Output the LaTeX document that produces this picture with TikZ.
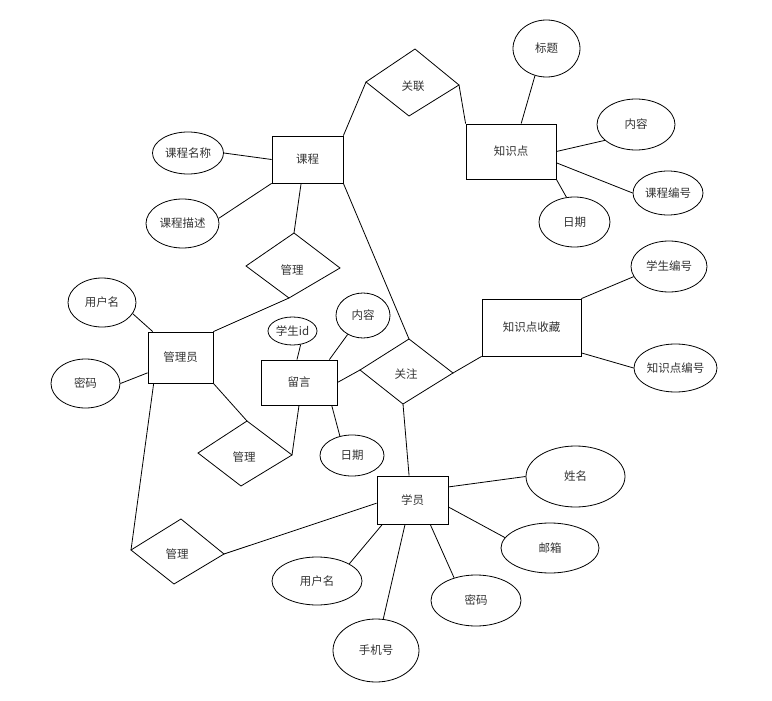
\documentclass[tikz,border=0pt]{standalone}
\usepackage{fontspec}
\newfontfamily\cjk{Noto Sans CJK SC}
\usepackage{tikz}
\usetikzlibrary{shapes.geometric}

\tikzset{
  erfont/.style={font=\cjk\fontsize{11.5}{13}\selectfont, text=black!80},
  entity/.style={erfont, draw, rectangle, inner sep=0pt},
  attr/.style={erfont, draw, ellipse, inner sep=0pt},
  rel/.style={erfont},
}

\begin{document}
\begin{tikzpicture}[x=1pt, y=-1pt, line width=0.8pt]
        \useasboundingbox (0,0) rectangle (772,701);

        % Entities
        \node[entity, minimum width=71pt, minimum height=47pt] (kc) at (307.5,159.5) {课程};
        \node[entity, minimum width=90pt, minimum height=55pt] (zsd) at (511,151.5) {知识点};
        \node[entity, minimum width=99pt, minimum height=57pt] (scsc) at (531.5,327.5) {知识点收藏};
        \node[entity, minimum width=65pt, minimum height=51pt] (gly) at (180.5,357.5) {管理员};
        \node[entity, minimum width=76pt, minimum height=45pt] (ly) at (299,382.5) {留言};
        \node[entity, minimum width=71pt, minimum height=48pt] (xy) at (412.5,500) {学员};

        % Attributes
        \node[attr, minimum width=67pt, minimum height=57pt] (bt) at (546.5,48.5) {标题};
        \node[attr, minimum width=78pt, minimum height=51pt] (nr1) at (636,124.5) {内容};
        \node[attr, minimum width=70pt, minimum height=44pt] (kcbh) at (668,193) {课程编号};
        \node[attr, minimum width=71pt, minimum height=50pt] (rq1) at (574.5,222) {日期};
        \node[attr, minimum width=76pt, minimum height=51pt] (xsbh) at (669,266.5) {学生编号};
        \node[attr, minimum width=83pt, minimum height=48pt] (zsdbh) at (675.5,368) {知识点编号};
        \node[attr, minimum width=71pt, minimum height=42pt] (kcmc) at (188,153) {课程名称};
        \node[attr, minimum width=73pt, minimum height=49pt] (kcms) at (182.5,223.5) {课程描述};
        \node[attr, minimum width=68pt, minimum height=49pt] (yhm1) at (102,302.5) {用户名};
        \node[attr, minimum width=69pt, minimum height=49pt] (mm1) at (85.5,383.5) {密码};
        \node[attr, minimum width=49pt, minimum height=28pt] (xsid) at (292.5,331) {学生id};
        \node[attr, minimum width=54pt, minimum height=45pt] (nr2) at (363,315.5) {内容};
        \node[attr, minimum width=64pt, minimum height=41pt] (rq2) at (352,455.5) {日期};
        \node[attr, minimum width=99pt, minimum height=61pt] (xm) at (575.5,476.5) {姓名};
        \node[attr, minimum width=98pt, minimum height=50pt] (yx) at (550,548) {邮箱};
        \node[attr, minimum width=90pt, minimum height=51pt] (mm2) at (476,600.5) {密码};
        \node[attr, minimum width=86pt, minimum height=63pt] (sjh) at (376,650.5) {手机号};
        \node[attr, minimum width=90pt, minimum height=48pt] (yhm2) at (317,581) {用户名};

        % Relationships (hand-drawn diamonds)
        \draw (415,49) coordinate (gl-t) -- (459,85) coordinate (gl-r) -- (409,116) coordinate (gl-b) -- (366,82) coordinate (gl-l) -- cycle;
        \node[rel] (gl) at (413,86) {关联};
        \draw (294,233) coordinate (gla-t) -- (340,268) coordinate (gla-r) -- (289,298) coordinate (gla-b) -- (246,266) coordinate (gla-l) -- cycle;
        \node[rel] (gla) at (292,270) {管理};
        \draw (409,339) coordinate (gz-t) -- (453,373) coordinate (gz-r) -- (403,404) coordinate (gz-b) -- (360,370) coordinate (gz-l) -- cycle;
        \node[rel] (gz) at (406,374) {关注};
        \draw (247,421) coordinate (glb-t) -- (292,455) coordinate (glb-r) -- (241,486) coordinate (glb-b) -- (198,453) coordinate (glb-l) -- cycle;
        \node[rel] (glb) at (244,457) {管理};
        \draw (181,519) coordinate (glc-t) -- (224,554) coordinate (glc-r) -- (174,584) coordinate (glc-b) -- (131,550) coordinate (glc-l) -- cycle;
        \node[rel] (glc) at (177,554) {管理};

        % Course and knowledge point
        \draw (kcmc.east) -- (kc.west);
        \draw (kcms.8) -- (kc.south west);
        \draw (kc.north east) -- (gl-l);
        \draw (gl-r) -- (zsd.north west);
        \draw (kc.-105) -- (gla-t);
        \draw (kc.south east) -- (gz-t);
        \draw (bt.-113) -- (zsd.70);
        \draw (nr1.-153) -- (zsd.east);
        \draw (kcbh.west) -- (zsd.-14);
        \draw (rq1.108) -- (zsd.south east);

        % Favourites
        \draw (xsbh.-164) -- (scsc.north east);
        \draw (zsdbh.west) -- (scsc.-27);
        \draw (gz-r) -- (scsc.south west);

        % Administrator
        \draw (yhm1.-20) -- (gly.137);
        \draw (mm1.east) -- (gly.205);
        \draw (gly.north east) -- (gla-b);
        \draw (gly.south east) -- (glb-t);
        \draw (gly.-136) -- (glc-l);

        % Message
        \draw (xsid.-59) -- (ly.95);
        \draw (nr2.-129) -- (ly.37);
        \draw (ly.east) -- (gz-l);
        \draw (ly.south) -- (glb-r);
        \draw (rq2.122) -- (ly.-35);

        % Student
        \draw (gz-b) -- (xy.98);
        \draw (glc-r) -- (xy.185);
        \draw (xm.west) -- (xy.20);
        \draw (yx.167) -- (xy.-11);
        \draw (mm2.134) -- (xy.-54);
        \draw (sjh.77) -- (xy.-107);
        \draw (yhm2.28) -- (xy.-141);
    \end{tikzpicture}
\end{document}
